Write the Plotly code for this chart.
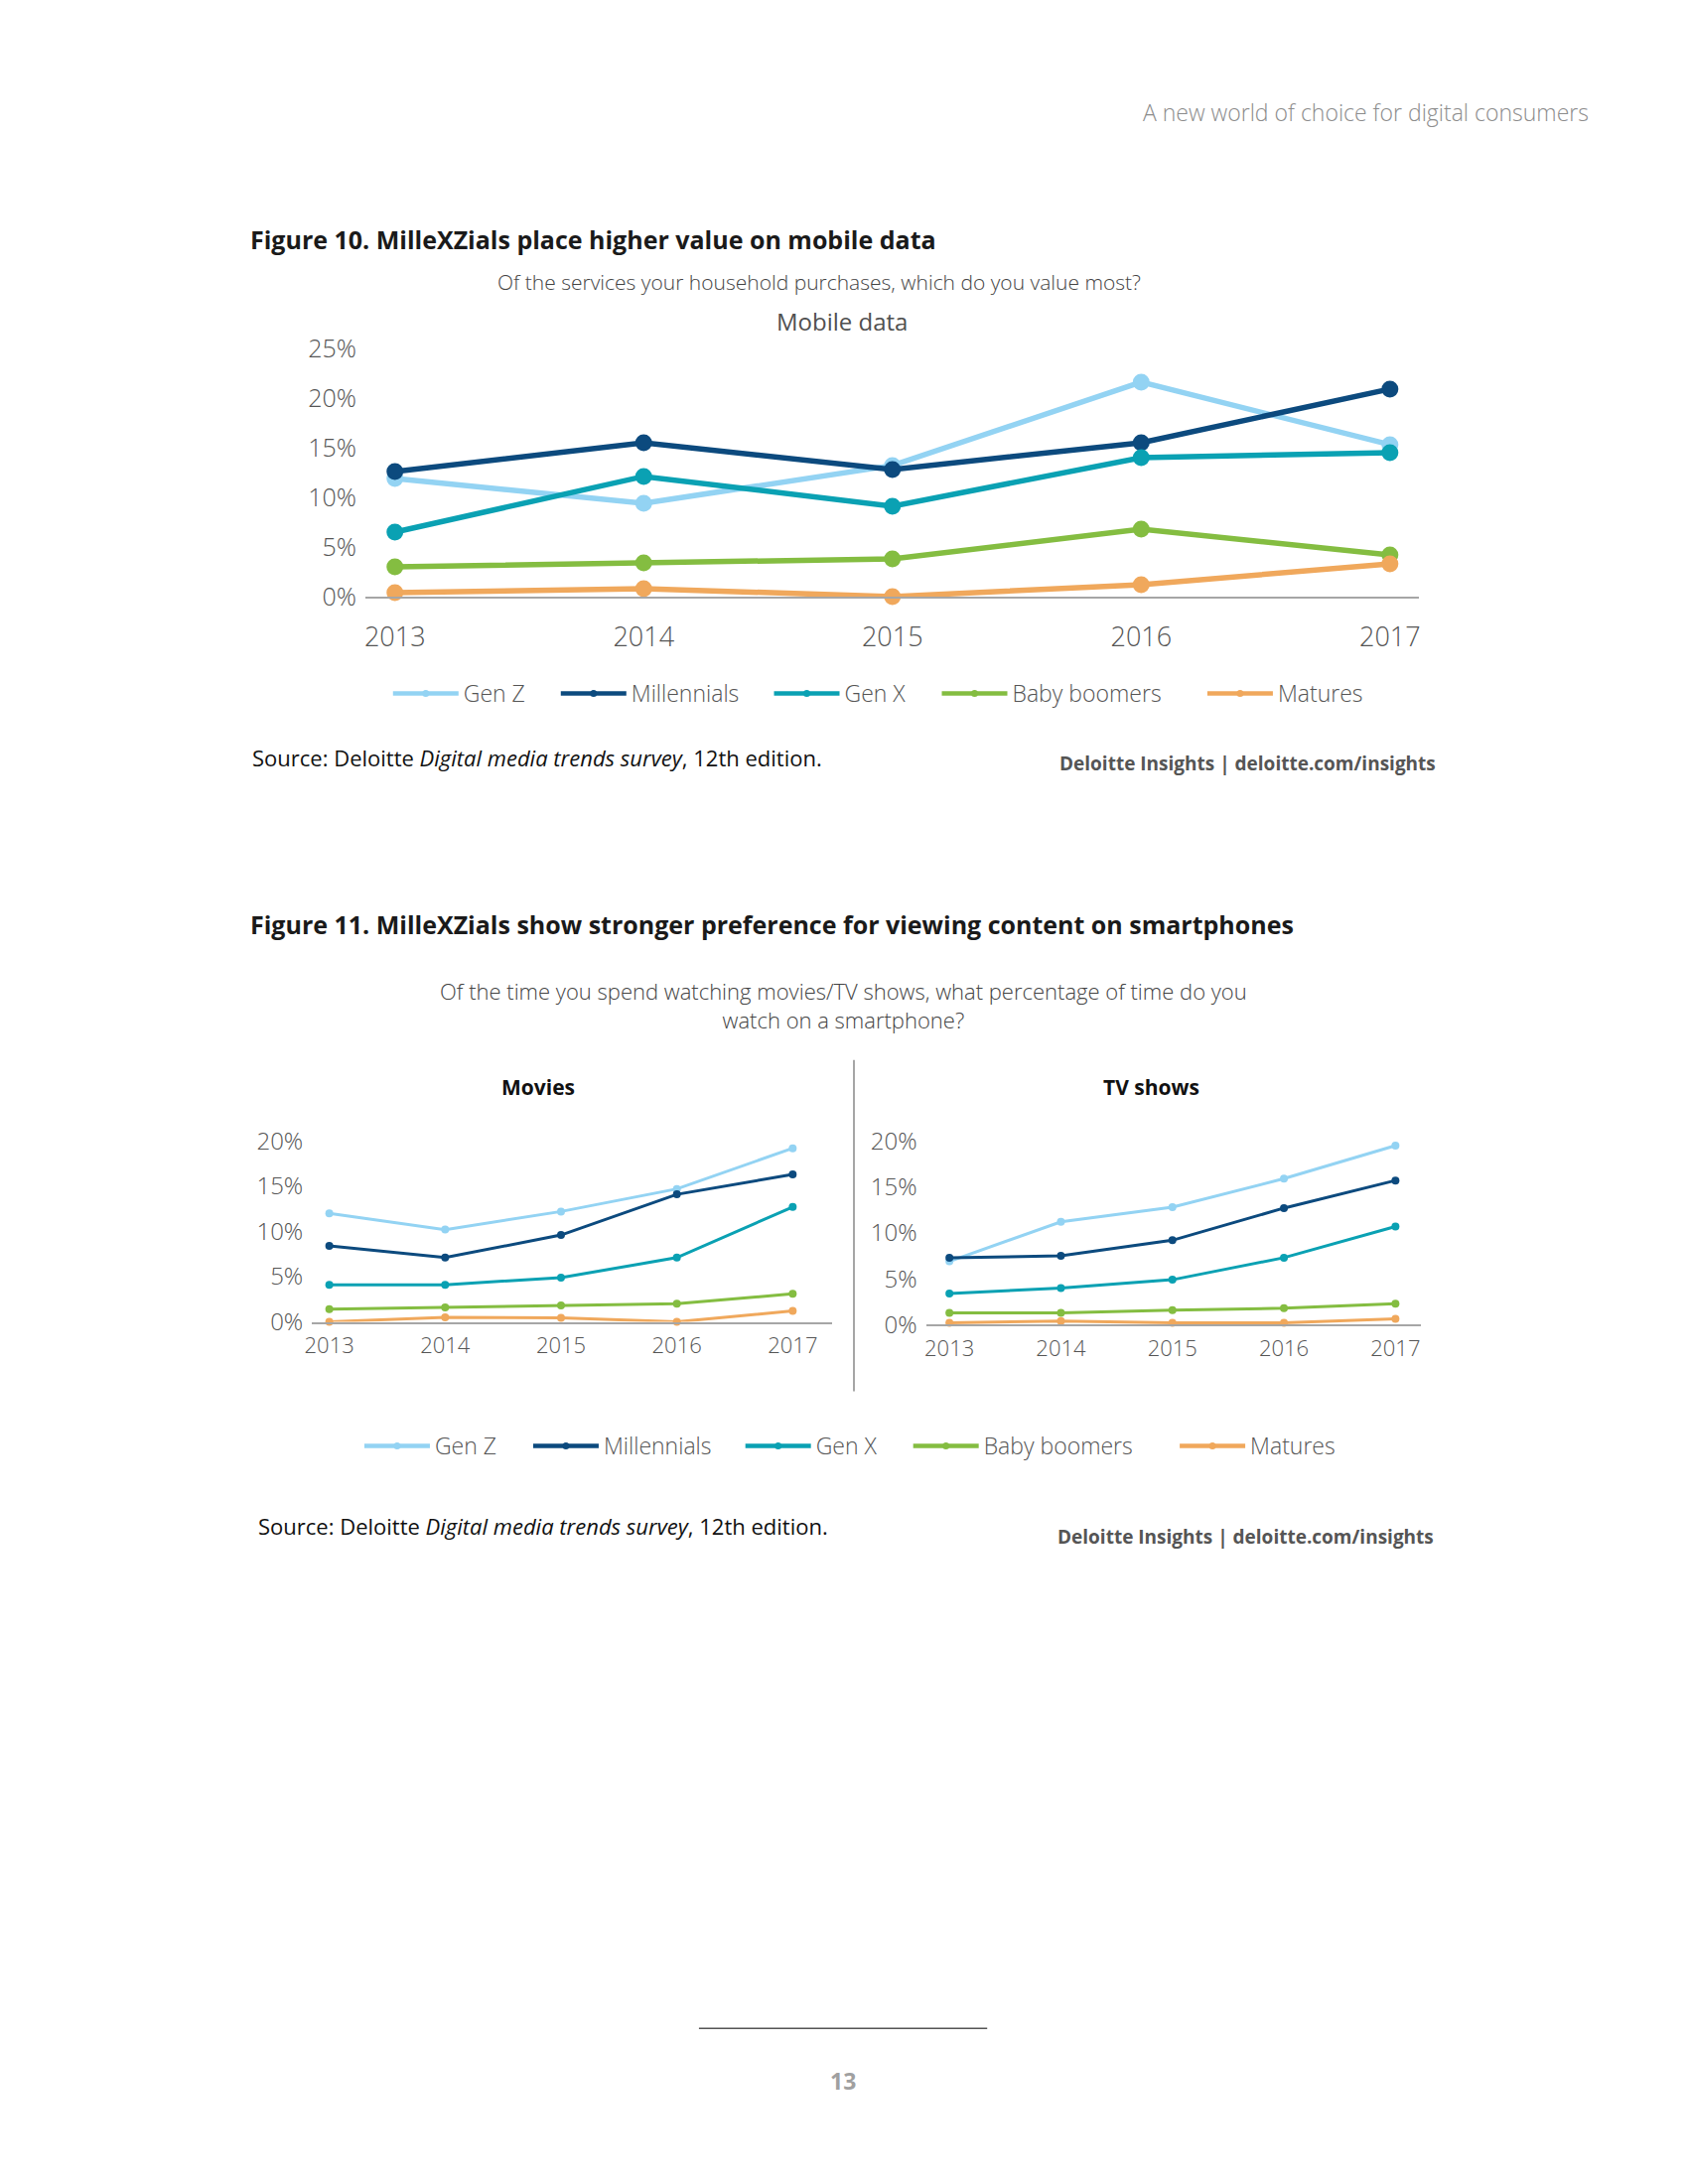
import plotly.graph_objects as go

W, H = 1700, 2200

years = [2013, 2014, 2015, 2016, 2017]
series = ["Gen Z", "Millennials", "Gen X", "Baby boomers", "Matures"]
colors = ["#93D3F3", "#0C4A7E", "#0AA1B3", "#84BD41", "#F0A85C"]

# Figure 10: Mobile data (%)
mobile_genz = [11.9, 9.4, 13.2, 21.6, 15.3]
mobile_mill = [12.6, 15.5, 12.8, 15.5, 20.9]
mobile_genx = [6.5, 12.1, 9.1, 14.0, 14.5]
mobile_boom = [3.0, 3.4, 3.8, 6.8, 4.2]
mobile_mat = [0.4, 0.8, 0.0, 1.2, 3.3]

# Figure 11: Movies (%)
movies_genz = [12.0, 10.2, 12.2, 14.7, 19.2]
movies_mill = [8.4, 7.1, 9.6, 14.1, 16.3]
movies_genx = [4.1, 4.1, 4.9, 7.1, 12.7]
movies_boom = [1.4, 1.6, 1.8, 2.0, 3.1]
movies_mat = [0.0, 0.5, 0.45, 0.0, 1.2]

# Figure 11: TV shows (%)
tv_genz = [6.9, 11.2, 12.8, 15.9, 19.5]
tv_mill = [7.3, 7.5, 9.2, 12.7, 15.7]
tv_genx = [3.4, 4.0, 4.9, 7.3, 10.7]
tv_boom = [1.3, 1.3, 1.6, 1.8, 2.3]
tv_mat = [0.2, 0.4, 0.2, 0.2, 0.65]

mobile = [mobile_genz, mobile_mill, mobile_genx, mobile_boom, mobile_mat]
movies = [movies_genz, movies_mill, movies_genx, movies_boom, movies_mat]
tv = [tv_genz, tv_mill, tv_genx, tv_boom, tv_mat]

mobile_ticks = [0, 5, 10, 15, 20, 25]
small_ticks = [0, 5, 10, 15, 20]

FONT = "Open Sans"


def px(x):
    return x / W


def py(y):
    return 1 - y / H


fig = go.Figure()

for i, name in enumerate(series):
    fig.add_trace(go.Scatter(
        x=years, y=mobile[i], name=name, mode="lines+markers",
        line=dict(color=colors[i], width=5.5), marker=dict(color=colors[i], size=17),
        showlegend=False, cliponaxis=False, xaxis="x", yaxis="y"))
    fig.add_trace(go.Scatter(
        x=years, y=movies[i], name=name, mode="lines+markers",
        line=dict(color=colors[i], width=3), marker=dict(color=colors[i], size=8),
        showlegend=False, cliponaxis=False, xaxis="x2", yaxis="y2"))
    fig.add_trace(go.Scatter(
        x=years, y=tv[i], name=name, mode="lines+markers",
        line=dict(color=colors[i], width=3), marker=dict(color=colors[i], size=8),
        showlegend=False, cliponaxis=False, xaxis="x3", yaxis="y3"))

# one small legend per entry, so the spacing can follow the reference
legend1_x = [377, 547, 763, 933, 1202]
legend2_x = [348, 519, 734, 904, 1174]
legend1_y = 683
legend2_y = 1453

legend_font = dict(family=FONT, size=23, color="#555555", weight=300)
legend_layouts = {}
for i, name in enumerate(series):
    for k, (lx, ly, ax) in enumerate([(legend1_x[i], legend1_y, ("x", "y")),
                                       (legend2_x[i], legend2_y, ("x2", "y2"))]):
        idx = i + 1 + 5 * k
        key = "legend" if idx == 1 else f"legend{idx}"
        fig.add_trace(go.Scatter(
            x=[None], y=[None], name=name, mode="lines+markers",
            line=dict(color=colors[i], width=4.5), marker=dict(color=colors[i], size=7),
            showlegend=True, legend=key, xaxis=ax[0], yaxis=ax[1]))
        legend_layouts[key] = dict(orientation="h", x=px(lx), y=py(ly), xanchor="left",
                                   yanchor="middle", font=legend_font, itemwidth=66,
                                   bgcolor="rgba(0,0,0,0)")

tick_font = dict(family=FONT, size=25, color="#555555", weight=300)
xtick_font = dict(family=FONT, size=27, color="#555555", weight=300)
small_ytick_font = dict(family=FONT, size=24, color="#555555", weight=300)
small_xtick_font = dict(family=FONT, size=22, color="#555555", weight=300)


def xax(domain, rng, ypos, fnt, standoff):
    return dict(domain=domain, range=rng, anchor=ypos, tickmode="array", tickvals=years,
                ticktext=[str(y) for y in years], showgrid=False, zeroline=False,
                showline=True, linecolor="#A6A6A6", linewidth=2, ticks="",
                tickfont=fnt, ticklabelstandoff=standoff, fixedrange=True)


def yax(domain, rng, xpos, vals, fnt, standoff):
    return dict(domain=domain, range=rng, anchor=xpos, tickmode="array", tickvals=vals,
                ticktext=[f"{v}%" for v in vals], showgrid=False, zeroline=False,
                showline=False, ticks="", tickfont=fnt, ticklabelstandoff=standoff,
                fixedrange=True)


fig.update_layout(
    width=W, height=H,
    margin=dict(l=0, r=0, t=0, b=0),
    paper_bgcolor="white", plot_bgcolor="white",
    font=dict(family=FONT, color="#444444"),
    xaxis=xax([px(354), px(1421)], [2012.881, 2017.115], "y", xtick_font, 16),
    yaxis=yax([py(584), py(330)], [0, 25], "x", mobile_ticks, tick_font, 8),
    xaxis2=xax([px(300), px(827)], [2012.851, 2017.341], "y2", small_xtick_font, 3),
    yaxis2=yax([py(1326), py(1141)], [0, 20], "x2", small_ticks, small_ytick_font, 8),
    xaxis3=xax([px(922), px(1423)], [2012.79, 2017.225], "y3", small_xtick_font, 3),
    yaxis3=yax([py(1329), py(1141)], [0, 20], "x3", small_ticks, small_ytick_font, 8),
    **legend_layouts,
)

annotations = [
    dict(text="A new world of choice for digital consumers", x=px(1595), y=py(88),
         xanchor="right", yanchor="middle", font=dict(size=23, color="#8C8C8C", weight=300)),
    dict(text="<b>Figure 10. MilleXZials place higher value on mobile data</b>", x=px(235), y=py(218),
         xanchor="left", yanchor="middle", font=dict(size=25, color="#1A1A1A")),
    dict(text="Of the services your household purchases, which do you value most?", x=px(814), y=py(262),
         xanchor="center", yanchor="middle", font=dict(size=21, color="#444444", weight=300)),
    dict(text="Mobile data", x=px(837), y=py(302),
         xanchor="center", yanchor="middle", font=dict(size=24, color="#505050")),
    dict(text="Source: Deloitte <i>Digital media trends survey</i>, 12th edition.", x=px(237), y=py(749),
         xanchor="left", yanchor="middle", font=dict(size=22, color="#111111")),
    dict(text="<b>Deloitte Insights | deloitte.com/insights</b>", x=px(1440), y=py(755),
         xanchor="right", yanchor="middle", font=dict(size=19, color="#555555")),
    dict(text="<b>Figure 11. MilleXZials show stronger preference for viewing content on smartphones</b>",
         x=px(235), y=py(919), xanchor="left", yanchor="middle", font=dict(size=25, color="#1A1A1A")),
    dict(text="Of the time you spend watching movies/TV shows, what percentage of time do you<br>watch on a smartphone?",
         x=px(838), y=py(1002), xanchor="center", yanchor="middle", align="center",
         font=dict(size=22, color="#444444", weight=300)),
    dict(text="<b>Movies</b>", x=px(529), y=py(1086), xanchor="center", yanchor="middle",
         font=dict(size=21, color="#111111")),
    dict(text="<b>TV shows</b>", x=px(1150), y=py(1086), xanchor="center", yanchor="middle",
         font=dict(size=21, color="#111111")),
    dict(text="Source: Deloitte <i>Digital media trends survey</i>, 12th edition.", x=px(243), y=py(1535),
         xanchor="left", yanchor="middle", font=dict(size=22, color="#111111")),
    dict(text="<b>Deloitte Insights | deloitte.com/insights</b>", x=px(1438), y=py(1546),
         xanchor="right", yanchor="middle", font=dict(size=19, color="#555555")),
    dict(text="<b>13</b>", x=px(838), y=py(2103), xanchor="center", yanchor="middle",
         font=dict(size=23, color="#A0A0A0")),
]
for a in annotations:
    a.update(xref="paper", yref="paper", showarrow=False)
    a["font"].setdefault("family", FONT)
fig.update_layout(annotations=annotations)

fig.update_layout(shapes=[
    dict(type="line", xref="paper", yref="paper", x0=px(849), x1=px(849), y0=py(1058), y1=py(1397),
         line=dict(color="#A6A6A6", width=2)),
    dict(type="line", xref="paper", yref="paper", x0=px(692), x1=px(984), y0=py(2049), y1=py(2049),
         line=dict(color="#555555", width=1.5)),
])

fig.write_html("out.html")
